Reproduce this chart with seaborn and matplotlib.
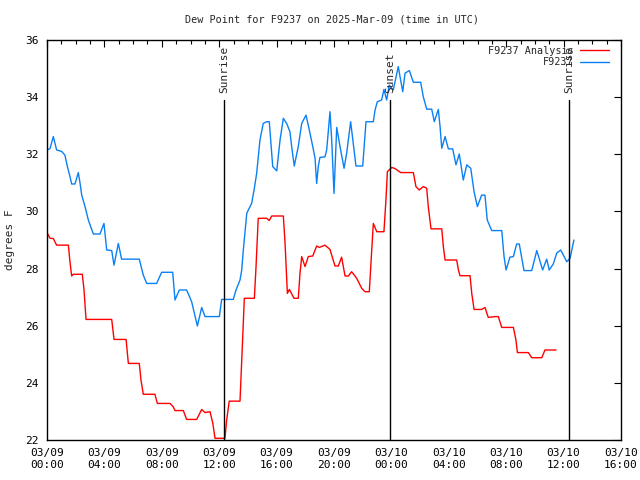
import matplotlib
matplotlib.use("Agg")
import matplotlib.pyplot as plt
import seaborn as sns
import pandas as pd
from matplotlib.ticker import MultipleLocator

# Hours since 2025-03-09 00:00 UTC
obs_hours = [0.00, 0.21, 0.44, 0.67, 1.02, 1.25, 1.42, 1.60, 1.72, 1.95, 2.18, 2.30, 2.42, 2.65, 2.88,
             3.23, 3.69, 3.97, 4.16, 4.51, 4.67, 4.97, 5.20, 6.43, 6.71, 6.95, 7.64, 7.99, 8.76, 8.92,
             9.22, 9.73, 10.08, 10.48, 10.78, 11.01, 12.01, 12.17, 12.98, 13.17, 13.45, 13.57, 13.68,
             13.92, 14.03, 14.26, 14.43, 14.61, 14.84, 15.07, 15.31, 15.49, 15.59, 15.73, 16.01, 16.24,
             16.47, 16.70, 16.93, 17.05, 17.23, 17.51, 17.75, 18.05, 18.28, 18.52, 18.68, 18.79, 18.91,
             19.02, 19.37, 19.49, 19.72, 19.84, 20.00, 20.19, 20.42, 20.70, 20.88, 21.16, 21.30, 21.53,
             22.00, 22.23, 22.74, 22.86, 23.02, 23.32, 23.48, 23.67, 23.85, 24.13, 24.48, 24.60, 24.79,
             24.95, 25.25, 25.53, 26.04, 26.22, 26.46, 26.81, 26.99, 27.27, 27.39, 27.51, 27.74, 27.97,
             28.27, 28.50, 28.73, 29.01, 29.25, 29.53, 29.76, 29.99, 30.29, 30.52, 30.68, 30.99, 31.69,
             31.85, 31.99, 32.26, 32.50, 32.73, 32.91, 33.24, 33.78, 34.13, 34.54, 34.82, 35.00, 35.28,
             35.52, 35.80, 36.22, 36.45, 36.72]
obs_dewpt = [32.15, 32.20, 32.62, 32.15, 32.10, 31.97, 31.57, 31.22, 30.96, 30.96, 31.36, 31.00, 30.57,
             30.17, 29.70, 29.21, 29.21, 29.58, 28.65, 28.63, 28.12, 28.88, 28.33, 28.33, 27.77, 27.48,
             27.48, 27.87, 27.87, 26.90, 27.25, 27.25, 26.84, 25.99, 26.64, 26.32, 26.32, 26.92, 26.92,
             27.25, 27.60, 27.95, 28.65, 29.93, 30.05, 30.28, 30.75, 31.33, 32.50, 33.08, 33.14, 33.14,
             32.50, 31.57, 31.42, 32.50, 33.26, 33.08, 32.79, 32.27, 31.59, 32.27, 33.08, 33.37, 32.85,
             32.27, 31.86, 30.98, 31.59, 31.89, 31.91, 32.15, 33.49, 32.50, 30.63, 32.94, 32.27, 31.51,
             32.03, 33.14, 32.56, 31.59, 31.59, 33.14, 33.14, 33.55, 33.84, 33.90, 34.27, 33.90, 34.42,
             34.25, 35.07, 34.72, 34.19, 34.84, 34.93, 34.52, 34.52, 34.02, 33.58, 33.58, 33.14, 33.57,
             32.97, 32.21, 32.62, 32.19, 32.19, 31.63, 32.01, 31.10, 31.63, 31.51, 30.69, 30.17, 30.57,
             30.57, 29.70, 29.33, 29.33, 28.42, 27.95, 28.40, 28.42, 28.86, 28.86, 27.93, 27.93, 28.63,
             27.95, 28.33, 27.95, 28.16, 28.54, 28.65, 28.24, 28.36, 29.00]

ana_hours = [0.00, 0.21, 0.44, 0.67, 1.49, 1.60, 1.72, 1.83, 2.46, 2.58, 2.72, 4.51, 4.67, 5.51, 5.67,
             6.43, 6.55, 6.71, 7.52, 7.69, 8.57, 8.80, 8.92, 9.50, 9.73, 10.43, 10.78, 11.01, 11.36,
             11.55, 11.71, 12.40, 12.52, 12.70, 13.45, 13.64, 13.75, 14.45, 14.56, 14.72, 15.31, 15.49,
             15.66, 16.47, 16.59, 16.75, 16.89, 17.21, 17.51, 17.63, 17.75, 17.98, 18.21, 18.52, 18.79,
             18.98, 19.37, 19.72, 20.07, 20.30, 20.53, 20.77, 21.00, 21.23, 21.58, 21.93, 22.16, 22.46,
             22.63, 22.74, 22.98, 23.48, 23.62, 23.72, 24.02, 24.25, 24.65, 25.53, 25.71, 25.94, 26.22,
             26.46, 26.57, 26.76, 27.51, 27.62, 27.74, 28.55, 28.67, 28.78, 29.48, 29.60, 29.76, 30.29,
             30.52, 30.75, 31.22, 31.45, 31.69, 32.50, 32.68, 32.78, 33.54, 33.78, 34.48, 34.70, 35.47]
ana_dewpt = [29.26, 29.06, 29.05, 28.82, 28.82, 28.24, 27.74, 27.80, 27.80, 27.25, 26.22, 26.22, 25.52,
             25.52, 24.68, 24.68, 24.10, 23.60, 23.60, 23.28, 23.28, 23.16, 23.03, 23.03, 22.72, 22.72,
             23.07, 22.96, 22.99, 22.60, 22.06, 22.06, 22.70, 23.36, 23.36, 25.62, 26.96, 26.96, 28.00,
             29.76, 29.76, 29.68, 29.84, 29.84, 28.88, 27.13, 27.27, 26.96, 26.96, 27.83, 28.42, 28.07,
             28.42, 28.44, 28.79, 28.74, 28.82, 28.67, 28.09, 28.09, 28.40, 27.74, 27.74, 27.89, 27.66,
             27.31, 27.19, 27.19, 28.65, 29.58, 29.29, 29.29, 30.40, 31.39, 31.54, 31.50, 31.36, 31.36,
             30.87, 30.75, 30.87, 30.81, 30.17, 29.39, 29.39, 28.77, 28.30, 28.30, 27.95, 27.75, 27.75,
             27.13, 26.57, 26.57, 26.64, 26.29, 26.32, 26.32, 25.94, 25.94, 25.50, 25.06, 25.06, 24.88,
             24.88, 25.15, 25.15]

sun_hours = [12.33, 23.90, 36.38]
sun_labels = ["Sunrise", "Sunset", "Sunrise"]

xtick_hours = [0, 4, 8, 12, 16, 20, 24, 28, 32, 36, 40]
xtick_labels = ["03/09\n00:00", "03/09\n04:00", "03/09\n08:00", "03/09\n12:00", "03/09\n16:00",
                "03/09\n20:00", "03/10\n00:00", "03/10\n04:00", "03/10\n08:00", "03/10\n12:00",
                "03/10\n16:00"]
ytick_vals = [22, 24, 26, 28, 30, 32, 34, 36]

sns.set_theme(style="white")
plt.rcParams['font.family'] = ['DejaVu Sans Mono', 'DejaVu Sans']

fig = plt.figure(figsize=(6.4, 4.8), dpi=100)
ax = fig.add_axes([47/640, 40/480, 574/640, 400/480])

df_ana = pd.DataFrame({"hour": ana_hours, "dewpt": ana_dewpt})
df_obs = pd.DataFrame({"hour": obs_hours, "dewpt": obs_dewpt})
sns.lineplot(data=df_ana, x="hour", y="dewpt", ax=ax, color="#ff0000", lw=1.0,
             label="F9237 Analysis", estimator=None, sort=False)
sns.lineplot(data=df_obs, x="hour", y="dewpt", ax=ax, color="#0a80f5", lw=1.0,
             label="F9237", estimator=None, sort=False)

for h, lab in zip(sun_hours, sun_labels):
    ax.plot([h, h], [22, 33.9], color="black", lw=1.0)
    ax.text(h, 34.15, lab, rotation=90, ha="center", va="bottom", fontsize=8)

ax.set_xlim(0, 40)
ax.set_ylim(22, 36)
ax.set_xticks(xtick_hours)
ax.set_xticklabels(xtick_labels, fontsize=8)
ax.set_yticks(ytick_vals)
ax.set_yticklabels([str(v) for v in ytick_vals], fontsize=8)
ax.xaxis.set_minor_locator(MultipleLocator(1))
ax.tick_params(axis="both", which="both", direction="in", top=True, right=True,
               colors="black", labelcolor="black")
ax.tick_params(axis="both", which="major", length=5, width=0.8, pad=6)
ax.tick_params(axis="x", which="minor", length=3, width=0.8)
for s in ax.spines.values():
    s.set_color("black")
    s.set_linewidth(1.0)
ax.set_xlabel("")
ax.set_ylabel("")
fig.text(10/640, 1 - 240/480, "degrees F", rotation=90, ha="center", va="center", fontsize=8)
fig.text(332/640, 1 - 19/480, "Dew Point for F9237 on 2025-Mar-09 (time in UTC)",
         ha="center", va="center", fontsize=7.3)

leg = ax.legend(loc="upper right", frameon=False, markerfirst=False, fontsize=7.3,
                handlelength=2.9, borderaxespad=0.15, labelspacing=0.15, handletextpad=0.6,
                bbox_to_anchor=(1.0 - 6/574, 1.0))
for t in leg.get_texts():
    t.set_ha("right")

fig.savefig("out.png", dpi=100, facecolor="white")
